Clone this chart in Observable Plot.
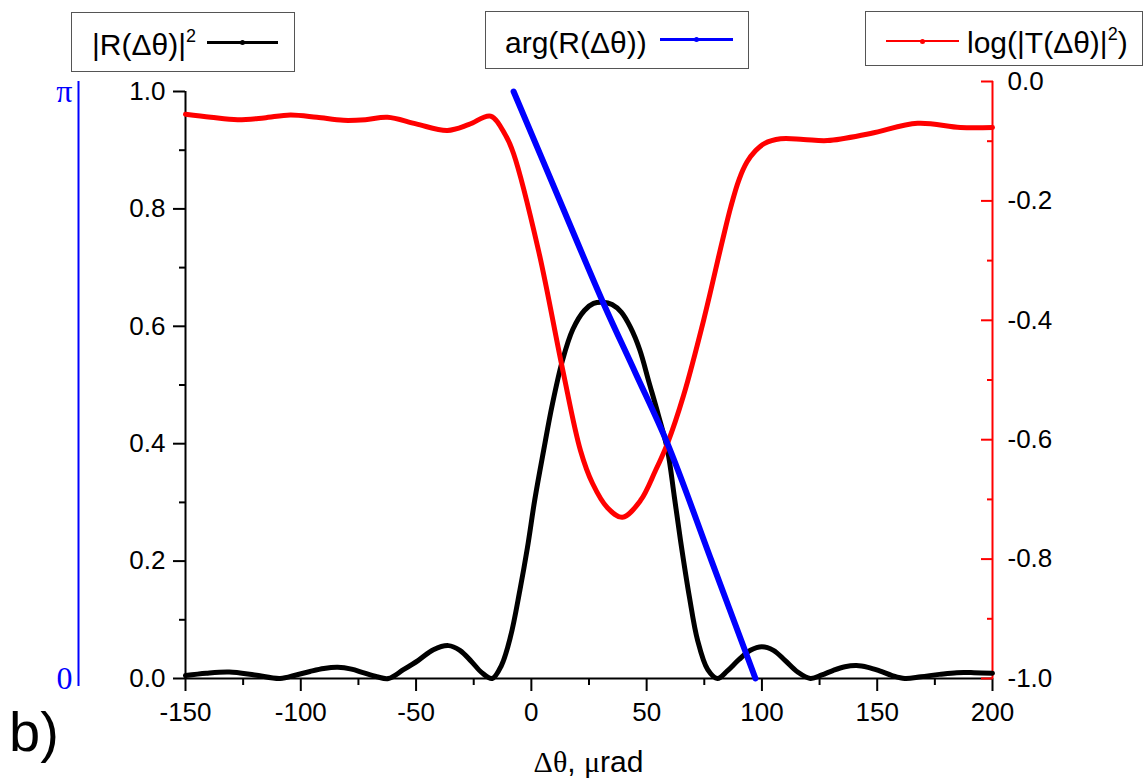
<!DOCTYPE html>
<html><head><meta charset="utf-8">
<script src="https://cdn.jsdelivr.net/npm/d3@7"></script>
<script src="https://cdn.jsdelivr.net/npm/@observablehq/plot@0.6"></script>
<style>
body{margin:0;background:#fff;}
#wrap{position:relative;width:1148px;height:784px;font-family:"Liberation Sans",Arial,sans-serif;color:#000;}
#wrap svg{position:absolute;left:0;top:0;}
.box{position:absolute;border:1px solid #555;box-sizing:border-box;background:#fff;}
.lab{position:absolute;white-space:nowrap;line-height:30px;font-size:30px;}
.smp{position:absolute;height:3px;}
.dot{position:absolute;width:5px;height:5px;border-radius:50%;}
</style></head><body><div id="wrap"></div>
<script>
// |R(Δθ)|^2 (left axis)
const thetaR = [-150,-141,-131,-120,-109,-102,-96,-90,-84,-78,-73,-67,-62,-55.5,-49,-42.5,-36,-31,-26,-21.5,-17,-13,-9,-5,-1.7,1.5,5.3,9,13.5,18,23,27,31,35,39,43,47,51,55,59,62,64.7,68.5,72.1,76.5,80.7,85,90,95,100,105,110,115.5,121,126,131,136,141,146,151,156.5,162,169,177,184.5,192,200];
const reflect = [0.005,0.009,0.011,0.006,0.0,0.006,0.012,0.017,0.019,0.016,0.01,0.003,0.0,0.015,0.031,0.049,0.056,0.048,0.029,0.01,0.0,0.022,0.072,0.15,0.223,0.305,0.388,0.465,0.542,0.595,0.627,0.639,0.641,0.637,0.624,0.598,0.56,0.505,0.45,0.39,0.31,0.235,0.14,0.065,0.015,0.0,0.013,0.032,0.048,0.054,0.048,0.031,0.011,0.0,0.006,0.014,0.02,0.022,0.019,0.013,0.005,0.0,0.003,0.007,0.01,0.01,0.009];
// log(|T(Δθ)|^2) (right axis)
const thetaT = [-150,-139,-127.4,-116,-104.5,-93,-81.5,-72,-62.4,-50,-36.4,-27,-17.7,-11.2,-7.7,3.1,13.5,21.3,26.5,33,39.5,47.3,53.8,59.05,66,74.7,82.9,86.5,90,93.5,97.2,101,108.1,118,128.4,147.1,167.5,186.1,200];
const logT = [-0.055,-0.060,-0.064,-0.061,-0.056,-0.060,-0.065,-0.064,-0.060,-0.071,-0.082,-0.072,-0.058,-0.090,-0.121,-0.283,-0.481,-0.618,-0.673,-0.714,-0.730,-0.702,-0.652,-0.606,-0.526,-0.400,-0.266,-0.210,-0.165,-0.135,-0.116,-0.104,-0.096,-0.097,-0.099,-0.087,-0.070,-0.077,-0.077];
// arg(R(Δθ)) in radians (blue axis 0..π)
const thetaPhi = [-7.7, 11.8, 31.3, 45.2, 59.05, 78.1, 97.2];
const argR = [3.1416, 2.573, 2.007, 1.634, 1.257, 0.631, 0];
// ticks
const xMajor = [-150,-100,-50,0,50,100,150,200];
const xMinor = [-125,-75,-25,25,75,125,175];
const leftMajor = [0,0.2,0.4,0.6,0.8,1.0];
const leftMinor = [0.1,0.3,0.5,0.7,0.9];
const rightMajor = [0,-0.2,-0.4,-0.6,-0.8,-1.0];
const rightMinor = [-0.1,-0.3,-0.5,-0.7,-0.9];
const phaseTicks = [0, Math.PI];
const phaseLabels = ["0","π"];

// secondary-axis mappings onto the primary y scale
const RSPAN = 597/587;
const redToY = r => (r + 1) * RSPAN;
const yToRed = v => v / RSPAN - 1;
const blueToY = p => p / Math.PI;

const black = thetaR.map((x,i)=>({x, y: reflect[i]}));
const red = thetaT.map((x,i)=>({x, y: redToY(logT[i])}));
const blue = thetaPhi.map((x,i)=>({x, y: blueToY(argR[i])}));

const font = "Liberation Sans, Arial, sans-serif";
const chart = Plot.plot({
  width: 1148, height: 784,
  marginLeft: 185, marginRight: 156, marginTop: 91, marginBottom: 106,
  style: {fontFamily: font, background: "white", color: "black", overflow: "visible"},
  x: {domain: [-150, 200]},
  y: {domain: [0, 1]},
  marks: [
    // left axis
    Plot.axisY({ticks: leftMajor, anchor: "left", tickSize: 12, tickPadding: 8, tickFormat: d => d.toFixed(1), fontSize: 26, strokeWidth: 2, label: null}),
    Plot.axisY({ticks: leftMinor, anchor: "left", tickSize: 6, tickFormat: () => "", strokeWidth: 2, label: null}),
    Plot.ruleX([-150], {stroke: "black", strokeWidth: 2}),
    // bottom axis
    Plot.axisX({ticks: xMajor, anchor: "bottom", tickSize: 13, tickPadding: 11, tickFormat: d => String(d), fontSize: 26, strokeWidth: 2, label: null}),
    Plot.axisX({ticks: xMinor, anchor: "bottom", tickSize: 7, tickFormat: () => "", strokeWidth: 2, label: null}),
    Plot.ruleY([0], {stroke: "black", strokeWidth: 2}),
    // right (red) axis
    Plot.axisY({ticks: rightMajor.map(redToY), anchor: "right", tickSize: 12, dx: -12, tickFormat: () => "", stroke: "red", strokeWidth: 2, label: null}),
    Plot.axisY({ticks: rightMinor.map(redToY), anchor: "right", tickSize: 6, dx: -6, tickFormat: () => "", stroke: "red", strokeWidth: 2, label: null}),
    Plot.axisY({ticks: rightMajor.map(redToY), anchor: "right", tickSize: 0, tickPadding: 15, tickFormat: v => yToRed(v).toFixed(1), fontSize: 26, fill: "black", label: null}),
    Plot.ruleX([200], {y1: () => redToY(-1), y2: () => redToY(0), stroke: "red", strokeWidth: 2}),
    // blue phase axis
    Plot.ruleX([-150], {dx: -107, stroke: "blue", strokeWidth: 2, insetTop: -10, insetBottom: -8}),
    Plot.text(phaseTicks, {y: d => blueToY(d), text: (d,i) => phaseLabels[i], frameAnchor: "left", dx: -113, textAnchor: "end", fill: "blue", fontFamily: "Liberation Serif, Times New Roman, serif", fontSize: 32}),
    // curves
    Plot.line(black, {x: "x", y: "y", stroke: "black", strokeWidth: 5, curve: "catmull-rom"}),
    Plot.line(red, {x: "x", y: "y", stroke: "red", strokeWidth: 5, curve: "catmull-rom"}),
    Plot.line(blue, {x: "x", y: "y", stroke: "blue", strokeWidth: 6, curve: "catmull-rom"})
  ]
});
const wrap = document.getElementById("wrap");
wrap.appendChild(chart);

function add(html){ wrap.insertAdjacentHTML("beforeend", html); }
// legends
add(`<div class="box" style="left:71px;top:12px;width:224px;height:60px"></div>`);
add(`<div class="lab" style="left:92px;top:30px">|R(Δθ)|<span style="font-size:18px;position:relative;top:-13px">2</span></div>`);
add(`<div class="smp" style="left:207px;top:41px;width:71px;background:#000"></div><div class="dot" style="left:240px;top:40px;background:#000"></div>`);

add(`<div class="box" style="left:485px;top:11px;width:264px;height:58px"></div>`);
add(`<div class="lab" style="left:505px;top:28px">arg(R(Δθ))</div>`);
add(`<div class="smp" style="left:660px;top:38px;width:73px;background:#00f"></div><div class="dot" style="left:694px;top:37px;background:#00f"></div>`);

add(`<div class="box" style="left:865px;top:11px;width:278px;height:55px"></div>`);
add(`<div class="smp" style="left:886px;top:40px;width:73px;height:2px;background:#f00"></div><div class="dot" style="left:920px;top:38.5px;background:#f00"></div>`);
add(`<div class="lab" style="left:967px;top:28px">log(|T(Δθ)|<span style="font-size:18px;position:relative;top:-13px">2</span>)</div>`);

// axis title and panel label
add(`<div class="lab" style="left:0;width:1177px;text-align:center;top:747px"><span style="font-family:'Liberation Serif',serif">Δθ</span>, <span style="font-family:'Liberation Serif',serif">μ</span>rad</div>`);
add(`<div class="lab" style="left:9px;top:704px;font-size:56px;line-height:56px">b)</div>`);
</script></body></html>
